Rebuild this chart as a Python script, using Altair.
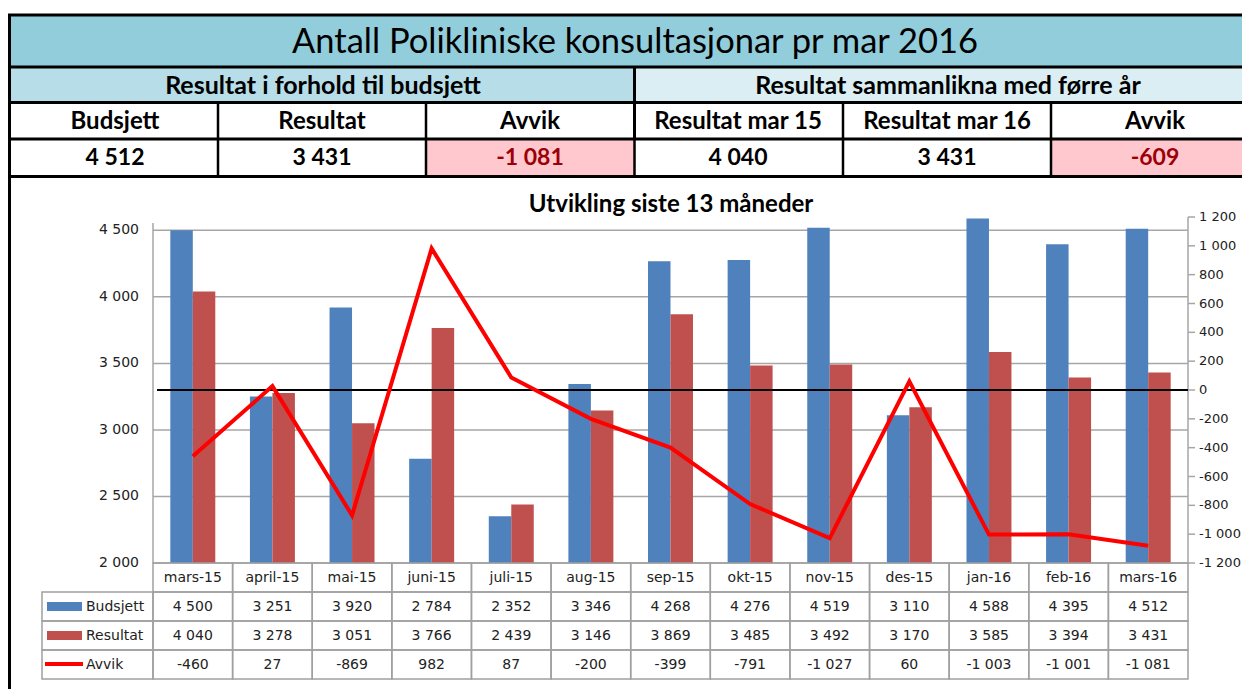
import altair as alt
import pandas as pd

# ---------------- data ----------------
months = ["mars-15", "april-15", "mai-15", "juni-15", "juli-15", "aug-15", "sep-15",
          "okt-15", "nov-15", "des-15", "jan-16", "feb-16", "mars-16"]
budsjett = [4500, 3251, 3920, 2784, 2352, 3346, 4268, 4276, 4519, 3110, 4588, 4395, 4512]
resultat = [4040, 3278, 3051, 3766, 2439, 3146, 3869, 3485, 3492, 3170, 3585, 3394, 3431]
avvik = [-460, 27, -869, 982, 87, -200, -399, -791, -1027, 60, -1003, -1001, -1081]
left_ticks = [2000, 2500, 3000, 3500, 4000, 4500]
right_ticks = [-1200, -1000, -800, -600, -400, -200, 0, 200, 400, 600, 800, 1000, 1200]
series = ["Budsjett", "Resultat"]

title_text = "Antall Polikliniske konsultasjonar pr mar 2016"
group_left = "Resultat i forhold til budsjett"
group_right = "Resultat sammanlikna med førre år"
col_heads = ["Budsjett", "Resultat", "Avvik", "Resultat mar 15", "Resultat mar 16", "Avvik"]
chart_title = "Utvikling siste 13 måneder"


def fmt(v):
    s = f"{abs(int(v)):,}".replace(",", " ")
    return ("-" if v < 0 else "") + s


head_vals = [budsjett[-1], resultat[-1], resultat[-1] - budsjett[-1],
             resultat[0], resultat[-1], resultat[-1] - resultat[0]]

# ---------------- styles ----------------
BLUE = "#4F81BD"
RED = "#C0504D"
LINE_RED = "#FF0000"
GRID = "#A6A6A6"
CELL = "#A0A0A0"
HEAD_FONT = "Lato"
AX_FONT = "DejaVu Sans"
OFF = 8


def P(v):
    return v - OFF


one = pd.DataFrame({"k": [0]})


def box(x1, y1, x2, y2, fill):
    return alt.Chart(one).mark_rect(fill=fill).encode(
        x=alt.value(P(x1)), x2=alt.value(P(x2)), y=alt.value(P(y1)), y2=alt.value(P(y2)))


def hline(x1, x2, y, color="black", sw=3):
    return alt.Chart(one).mark_rule(color=color, strokeWidth=sw).encode(
        x=alt.value(P(x1)), x2=alt.value(P(x2)), y=alt.value(P(y)))


def vline(x, y1, y2, color="black", sw=2):
    return alt.Chart(one).mark_rule(color=color, strokeWidth=sw).encode(
        x=alt.value(P(x)), y=alt.value(P(y1)), y2=alt.value(P(y2)))


def label(txt, x, y, size, weight="normal", color="black", align="center", font=HEAD_FONT):
    return alt.Chart(one).mark_text(font=font, fontSize=size, fontWeight=weight, color=color,
                                    align=align, baseline="middle").encode(
        x=alt.value(P(x)), y=alt.value(P(y)), text=alt.value(txt))


layers = []

# ---------------- header table ----------------
layers += [
    box(10, 16, 1260, 67, "#92CDDC"),
    box(10, 67, 634, 102, "#B7DEE8"),
    box(634, 67, 1260, 102, "#DAEEF3"),
    box(10, 102, 1260, 176, "white"),
    box(426, 139, 634, 176, "#FFC7CE"),
    box(1051, 139, 1260, 176, "#FFC7CE"),
]
for y in [15, 67, 102.5, 139, 176.5]:
    layers.append(hline(8, 1260, y, sw=3))
layers.append(vline(634.5, 67, 139, sw=3))
for x in [218, 426, 634.5, 843, 1051]:
    layers.append(vline(x, 102, 176, sw=2.5))
layers.append(vline(9.5, 14, 700, sw=3))

layers.append(label(title_text, 635, 43, 34.5))
layers.append(label(group_left, 323, 86, 25, "bold"))
layers.append(label(group_right, 948, 86, 25, "bold"))
centers = [115, 322, 530, 738, 947, 1155]
for i, (h, v) in enumerate(zip(col_heads, head_vals)):
    layers.append(label(h, centers[i], 122, 24, "bold"))
    col = "#9C0006" if v < 0 else "black"
    layers.append(label(fmt(v), centers[i], 158, 23, "bold", col))

layers.append(label(chart_title, 671, 205, 24, "bold"))

# ---------------- main chart scales ----------------
xs = alt.Scale(domain=months, range=[P(153), P(1188)], paddingInner=0, paddingOuter=0)
yl = alt.Scale(domain=[2000, 4600], range=[P(563), P(217)], zero=False)
yr = alt.Scale(domain=[-1200, 1200], range=[P(563), P(217)], zero=False)

df = pd.DataFrame({
    "idx": list(range(len(months))),
    "month": months,
    "Budsjett": budsjett,
    "Resultat": resultat,
    "Avvik": avvik,
    "Budsjett_t": [fmt(v) for v in budsjett],
    "Resultat_t": [fmt(v) for v in resultat],
    "Avvik_t": [fmt(v) for v in avvik],
})
long = df.melt(id_vars=["month"], value_vars=series, var_name="serie", value_name="value")

lt = pd.DataFrame({"v": left_ticks, "t": [fmt(v) for v in left_ticks]})
rt = pd.DataFrame({"v": right_ticks, "t": [fmt(v) for v in right_ticks]})

# gridlines
layers.append(alt.Chart(lt).mark_rule(color=GRID, strokeWidth=1.5).encode(
    y=alt.Y("v:Q", scale=yl, axis=None), x=alt.value(P(153)), x2=alt.value(P(1188))))
# left axis line
layers.append(vline(153, 223, 563, GRID, 1.5))
# left labels
layers.append(alt.Chart(lt).mark_text(font=AX_FONT, fontSize=14, color="#222", align="right",
                                      baseline="middle").encode(
    y=alt.Y("v:Q", scale=yl, axis=None), x=alt.value(P(139)), text="t:N"))

# bars
layers.append(alt.Chart(long).mark_bar().encode(
    x=alt.X("month:N", scale=xs, axis=None),
    xOffset=alt.XOffset("serie:N", scale=alt.Scale(domain=series, paddingInner=0, paddingOuter=0.77)),
    y=alt.Y("value:Q", scale=yl, axis=None),
    y2=alt.datum(2000),
    color=alt.Color("serie:N", scale=alt.Scale(domain=series, range=[BLUE, RED]), legend=None),
))

# right axis
layers.append(vline(1188, 217, 563, GRID, 1.5))
layers.append(alt.Chart(rt).mark_rule(color=GRID, strokeWidth=1.5).encode(
    y=alt.Y("v:Q", scale=yr, axis=None), x=alt.value(P(1188)), x2=alt.value(P(1195))))
layers.append(alt.Chart(rt).mark_text(font=AX_FONT, fontSize=13, color="#222", align="left",
                                      baseline="middle").encode(
    y=alt.Y("v:Q", scale=yr, axis=None), x=alt.value(P(1199)), text="t:N"))

# zero line
layers.append(alt.Chart(pd.DataFrame({"v": [0]})).mark_rule(color="black", strokeWidth=2).encode(
    y=alt.Y("v:Q", scale=yr, axis=None), x=alt.value(P(157)), x2=alt.value(P(1188))))

# avvik line
layers.append(alt.Chart(df).mark_line(color=LINE_RED, strokeWidth=4).encode(
    x=alt.X("month:N", scale=xs, axis=None),
    y=alt.Y("Avvik:Q", scale=yr, axis=None),
    order=alt.Order("idx:Q"),
))

# ---------------- data table ----------------
layers.append(alt.Chart(df).mark_rect(fillOpacity=0, stroke=CELL, strokeWidth=1.5).encode(
    x=alt.X("month:N", scale=xs, axis=None), y=alt.value(P(563)), y2=alt.value(P(592))))
layers.append(alt.Chart(df).mark_text(font=AX_FONT, fontSize=14, color="#222", baseline="middle").encode(
    x=alt.X("month:N", scale=xs, axis=None), y=alt.value(P(578)), text="month:N"))

row_names = ["Budsjett", "Resultat", "Avvik"]
row_top = [592, 621, 650]
for name, top in zip(row_names, row_top):
    layers.append(alt.Chart(df).mark_rect(fillOpacity=0, stroke=CELL, strokeWidth=1.5).encode(
        x=alt.X("month:N", scale=xs, axis=None), y=alt.value(P(top)), y2=alt.value(P(top + 29))))
    layers.append(alt.Chart(one).mark_rect(fillOpacity=0, stroke=CELL, strokeWidth=1.5).encode(
        x=alt.value(P(42)), x2=alt.value(P(153)), y=alt.value(P(top)), y2=alt.value(P(top + 29))))
    layers.append(alt.Chart(df).mark_text(font=AX_FONT, fontSize=14, color="#222", baseline="middle").encode(
        x=alt.X("month:N", scale=xs, axis=None), y=alt.value(P(top + 15)), text=f"{name}_t:N"))
    layers.append(label(name, 86, top + 15, 14, color="#222", align="left", font=AX_FONT))

# legend keys
layers.append(box(47, 602, 82, 611, BLUE))
layers.append(box(47, 631, 82, 640, RED))
layers.append(hline(45, 83, 664, LINE_RED, 4))

chart = alt.layer(*layers).resolve_scale(
    x="independent", y="independent", color="independent", xOffset="independent"
).properties(
    width=1234, height=681, padding=0, autosize=alt.AutoSizeParams(type="none"),
    background="white",
).configure_view(strokeWidth=0)

chart.save("out.html", embed_options={"renderer": "svg", "actions": False})
